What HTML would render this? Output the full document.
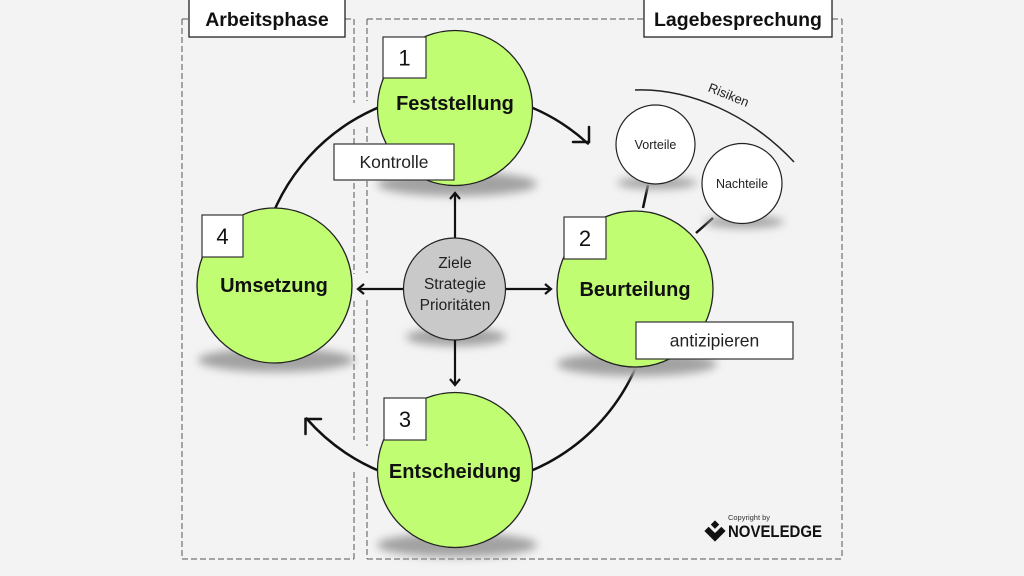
<!DOCTYPE html>
<html>
<head>
<meta charset="utf-8">
<style>
html,body{margin:0;padding:0;background:#f3f3f3;}
svg{display:block;}
text{font-family:"Liberation Sans",Arial,sans-serif;}
</style>
</head>
<body>
<svg width="1024" height="576" viewBox="0 0 1024 576" xmlns="http://www.w3.org/2000/svg">
<defs>
<filter id="blur" x="-50%" y="-100%" width="200%" height="300%">
<feGaussianBlur stdDeviation="4.5"/>
</filter>
</defs>
<rect x="0" y="0" width="1024" height="576" fill="#f3f3f3"/>

<!-- dashed frames -->
<g stroke="#555" stroke-width="1" stroke-dasharray="6,3" fill="none">
<line x1="182" y1="19" x2="189" y2="19"/>
<line x1="345" y1="19" x2="354" y2="19"/>
<line x1="182" y1="19" x2="182" y2="559"/>
<line x1="182" y1="559" x2="354" y2="559"/>
<line x1="354" y1="19" x2="354" y2="103"/>
<line x1="354" y1="129" x2="354" y2="274"/>
<line x1="354" y1="301" x2="354" y2="440"/>
<line x1="354" y1="472" x2="354" y2="559"/>
<line x1="367" y1="19" x2="644" y2="19"/>
<line x1="832" y1="19" x2="842" y2="19"/>
<line x1="842" y1="19" x2="842" y2="559"/>
<line x1="367" y1="559" x2="842" y2="559"/>
<line x1="367" y1="19" x2="367" y2="101"/>
<line x1="367" y1="127" x2="367" y2="273"/>
<line x1="367" y1="300" x2="367" y2="446"/>
<line x1="367" y1="477" x2="367" y2="559"/>
</g>

<!-- title boxes -->
<rect x="189" y="-1" width="156" height="38" fill="#fff" stroke="#222" stroke-width="1.3"/>
<text x="267" y="26" font-size="19.5" font-weight="bold" text-anchor="middle" fill="#111">Arbeitsphase</text>
<rect x="644" y="-1" width="188" height="38" fill="#fff" stroke="#222" stroke-width="1.3"/>
<text x="738" y="26" font-size="19.5" font-weight="bold" text-anchor="middle" fill="#111">Lagebesprechung</text>

<!-- big cycle arcs -->
<g stroke="#111" stroke-width="2.5" fill="none" stroke-linecap="round">
<path d="M264.7,238 A197,197 0 0 1 587.8,143.5"/>
<polyline points="573,142 589,142 589,127"/>
<path d="M645.3,340 A197,197 0 0 1 306.5,418.5"/>
<polyline points="321,419 305.5,419 305.5,434"/>
</g>

<!-- Risiken arc -->
<path d="M635,90 C690,88 750,115 794,162" stroke="#222" stroke-width="1.5" fill="none"/>
<text x="0" y="0" font-size="13" fill="#222" text-anchor="middle" transform="translate(727,99) rotate(22)">Risiken</text>

<!-- connector lines -->
<line x1="648" y1="185" x2="643" y2="208" stroke="#111" stroke-width="2.5"/>
<line x1="713" y1="218" x2="696" y2="233" stroke="#111" stroke-width="2.5"/>

<!-- shadows -->
<g fill="#a2a2a2" filter="url(#blur)">
<ellipse cx="457" cy="184" rx="80" ry="12"/>
<ellipse cx="276" cy="360" rx="78" ry="12"/>
<ellipse cx="637" cy="364" rx="80" ry="12"/>
<ellipse cx="457" cy="545" rx="80" ry="12"/>
<ellipse cx="456" cy="337" rx="50" ry="9"/>
<ellipse cx="657" cy="183" rx="40" ry="6"/>
<ellipse cx="744" cy="222" rx="40" ry="6"/>
</g>

<!-- central arrows -->
<g stroke="#111" stroke-width="2.2" fill="none">
<line x1="455" y1="238" x2="455" y2="195"/>
<polyline points="450,199 455,193 460,199"/>
<line x1="455" y1="340" x2="455" y2="383"/>
<polyline points="450,379 455,385 460,379"/>
<line x1="403" y1="289" x2="360" y2="289"/>
<polyline points="364,284 358,289 364,294"/>
<line x1="506" y1="289" x2="549" y2="289"/>
<polyline points="545,284 551,289 545,294"/>
</g>

<!-- green circles -->
<g fill="#c1fd73" stroke="#222" stroke-width="1.3">
<circle cx="455" cy="108" r="77.5"/>
<circle cx="635" cy="289" r="78"/>
<circle cx="455" cy="470" r="77.5"/>
<circle cx="274.5" cy="285.5" r="77.5"/>
</g>

<!-- central gray circle -->
<circle cx="454.5" cy="289" r="51" fill="#c9c9c9" stroke="#222" stroke-width="1.2"/>
<g font-size="15.5" fill="#222" text-anchor="middle">
<text x="455" y="268">Ziele</text>
<text x="455" y="289">Strategie</text>
<text x="455" y="310">Prioritäten</text>
</g>

<!-- Vorteile / Nachteile -->
<circle cx="655.5" cy="144.5" r="39.5" fill="#fff" stroke="#222" stroke-width="1.2"/>
<text x="655.5" y="149" font-size="12.5" text-anchor="middle" fill="#222">Vorteile</text>
<circle cx="742" cy="183.5" r="40" fill="#fff" stroke="#222" stroke-width="1.2"/>
<text x="742" y="188" font-size="12.5" text-anchor="middle" fill="#222">Nachteile</text>

<!-- circle labels -->
<g font-size="20" font-weight="bold" text-anchor="middle" fill="#111">
<text x="455" y="110">Feststellung</text>
<text x="635" y="296">Beurteilung</text>
<text x="455" y="478">Entscheidung</text>
<text x="274" y="292">Umsetzung</text>
</g>

<!-- number boxes -->
<g fill="#fff" stroke="#333" stroke-width="1.2">
<rect x="383" y="37" width="43" height="41"/>
<rect x="564" y="217" width="42" height="42"/>
<rect x="384" y="398" width="42" height="42"/>
<rect x="202" y="215" width="41" height="42"/>
</g>
<g font-size="22" text-anchor="middle" fill="#111">
<text x="404.5" y="65.5">1</text>
<text x="585" y="246">2</text>
<text x="405" y="427">3</text>
<text x="222.5" y="244">4</text>
</g>

<!-- label boxes -->
<rect x="334" y="144" width="120" height="36" fill="#fff" stroke="#333" stroke-width="1.2"/>
<text x="394" y="168" font-size="17.5" text-anchor="middle" fill="#222">Kontrolle</text>
<rect x="636" y="322" width="157" height="37" fill="#fff" stroke="#333" stroke-width="1.2"/>
<text x="714.5" y="346.5" font-size="17.5" text-anchor="middle" fill="#222">antizipieren</text>

<!-- logo -->
<text x="749" y="520" font-size="7.5" text-anchor="middle" fill="#333">Copyright by</text>
<g transform="translate(715,531) rotate(45)">
<rect x="-7.5" y="-7.5" width="15" height="15" fill="#111"/>
<rect x="-1.5" y="-8" width="3" height="9" fill="#f3f3f3"/>
<rect x="-8" y="-1.5" width="9" height="3" fill="#f3f3f3"/>
</g>
<text x="728" y="537" font-size="17" font-weight="bold" fill="#111" textLength="94" lengthAdjust="spacingAndGlyphs">NOVELEDGE</text>
</svg>
</body>
</html>
